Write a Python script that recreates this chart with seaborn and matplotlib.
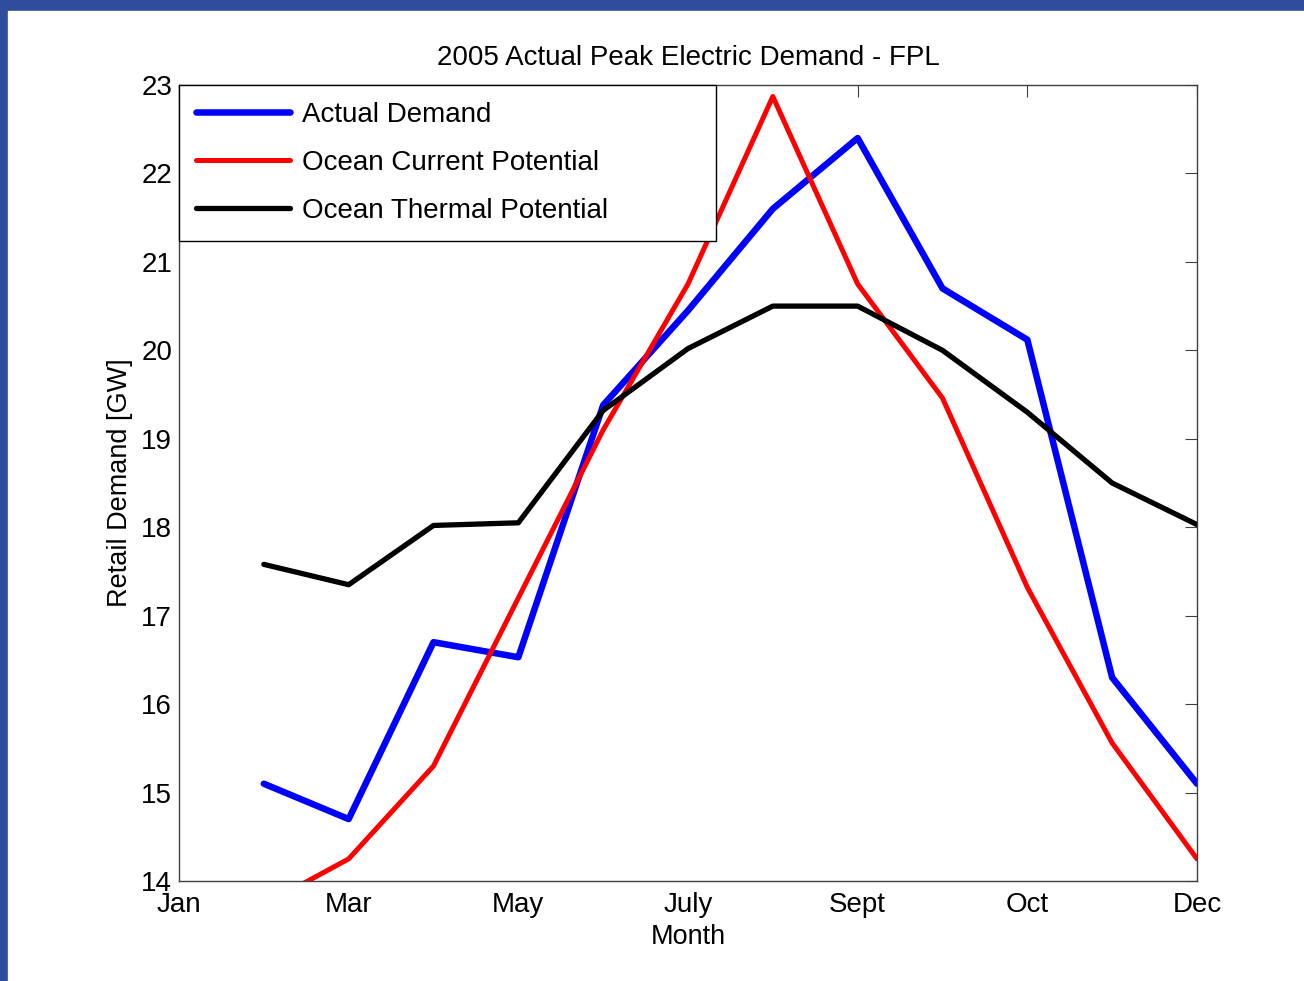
import matplotlib
matplotlib.use("Agg")
import matplotlib.pyplot as plt
import pandas as pd
import seaborn as sns
from matplotlib.patches import Rectangle


# month index: 0 = Jan ... 12 = Dec (axis runs Jan..Dec)
MONTHS = [1, 2, 3, 4, 5, 6, 7, 8, 9, 10, 11, 12]
ACTUAL_DEMAND = [15.1, 14.7, 16.7, 16.53, 19.38, 20.45, 21.6, 22.4, 20.7, 20.12, 16.3, 15.1]
OCEAN_CURRENT = [13.73, 14.25, 15.3, 17.2, 19.1, 20.75, 22.87, 20.75, 19.46, 17.32, 15.56, 14.25]
OCEAN_THERMAL = [17.58, 17.35, 18.02, 18.05, 19.32, 20.02, 20.5, 20.5, 20.0, 19.3, 18.5, 18.03]

X_TICKS = [0, 2, 4, 6, 8, 10, 12]
X_TICK_LABELS = ["Jan", "Mar", "May", "July", "Sept", "Oct", "Dec"]
Y_TICKS = [14, 15, 16, 17, 18, 19, 20, 21, 22, 23]

SERIES_NAMES = ["Actual Demand", "Ocean Current Potential", "Ocean Thermal Potential"]

# colour / line width per series
LINE_STYLES = {
    "Actual Demand": ("#0000ff", 4.7),
    "Ocean Current Potential": ("#ff0000", 3.6),
    "Ocean Thermal Potential": ("#000000", 3.8),
}


def build_frame():
    """
    Long-form table of the three demand series.
    """
    values = [ACTUAL_DEMAND, OCEAN_CURRENT, OCEAN_THERMAL]
    rows = []
    for name, series in zip(SERIES_NAMES, values):
        for month, value in zip(MONTHS, series):
            rows.append({"month": month, "demand": value, "series": name})
    return pd.DataFrame(rows)


def plot_demand(data):
    """
    Draw the peak demand chart in the old MATLAB look and save it.
    """
    sns.set_style("white")
    plt.rcParams["font.family"] = ["Liberation Sans", "DejaVu Sans"]
    plt.rcParams["text.color"] = "black"
    plt.rcParams["axes.labelcolor"] = "black"

    fig = plt.figure(figsize=(13.04, 9.81), dpi=100, facecolor="#2f4d9c")
    # white slide panel sitting on the blue background
    fig.patches.append(Rectangle((8 / 1304, 0), 1, 1 - 11 / 981,
                                 transform=fig.transFigure, color="white", zorder=-1))
    ax = fig.add_axes([179 / 1304, 1 - 881 / 981, (1197 - 179) / 1304, (881 - 85) / 981])

    for name in SERIES_NAMES:
        color, width = LINE_STYLES[name]
        sns.lineplot(data=data[data["series"] == name], x="month", y="demand",
                     color=color, linewidth=width, label=name, ax=ax)

    ax.set_xlim(0, 12)
    ax.set_ylim(14, 23)
    ax.set_xticks(X_TICKS)
    ax.set_xticklabels(X_TICK_LABELS)
    ax.set_yticks(Y_TICKS)
    ax.tick_params(direction="in", length=8.5, width=0.8, color="#404040",
                   labelcolor="black", labelsize=20, top=True, right=True)
    ax.tick_params(axis="x", pad=8)
    ax.tick_params(axis="y", pad=5)
    for spine in ax.spines.values():
        spine.set_color("#404040")
        spine.set_linewidth(1.0)

    ax.set_xlabel("Month", fontsize=19.5, labelpad=4)
    ax.set_ylabel("Retail Demand [GW]", fontsize=19.5, labelpad=6)
    ax.set_title("2005 Actual Peak Electric Demand - FPL", fontsize=20, pad=14.5)

    legend = ax.legend(loc="upper left", bbox_to_anchor=(0, 1, 537 / 1018, 0),
                       mode="expand", borderaxespad=0, fontsize=20, frameon=True,
                       fancybox=False, handlelength=3.4, handletextpad=0.43,
                       labelspacing=0.8, borderpad=0.6)
    legend.get_frame().set_edgecolor("black")
    legend.get_frame().set_linewidth(1.0)
    legend.get_frame().set_alpha(1)

    fig.savefig("out.png", dpi=100, facecolor=fig.get_facecolor())
    plt.close(fig)


if __name__ == "__main__":
    plot_demand(build_frame())
